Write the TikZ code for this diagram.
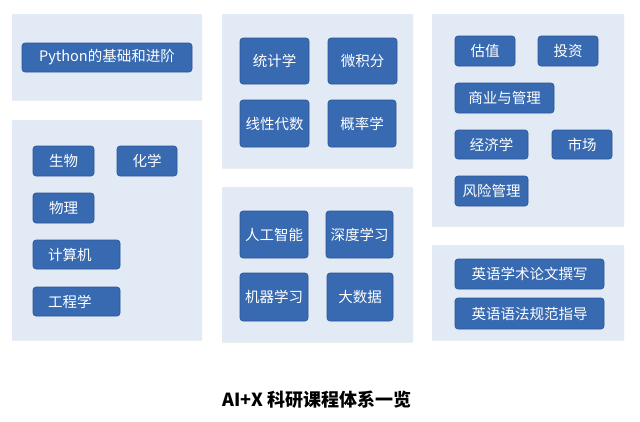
\documentclass[tikz,border=0pt]{standalone}
\usepackage{fontspec}
\setmainfont{Noto Sans CJK SC}
\usetikzlibrary{shadows}
\definecolor{panelc}{RGB}{226,234,245}
\definecolor{btnc}{RGB}{56,106,178}
\definecolor{btnedge}{RGB}{44,86,150}
\tikzset{
  panel/.style={fill=panelc, draw=none, rounded corners=1pt, inner sep=0pt,
    drop shadow={opacity=0.12, shadow xshift=0pt, shadow yshift=-1pt}},
  btn/.style={fill=btnc, draw=btnedge, line width=0.6pt, rounded corners=3pt,
    text=white, font=\fontsize{14.5}{16}\selectfont, inner sep=0pt},
  titletext/.style={font=\bfseries\fontsize{18}{20}\selectfont, text=black}
}
\begin{document}
\begin{tikzpicture}[x=1pt,y=-1pt]
\useasboundingbox (0,0) rectangle (640,421);
\fill[white] (0,0) rectangle (640,421);
% panels
\node[panel, minimum width=190pt, minimum height=86pt] (pA) at (107,57) {};
\node[panel, minimum width=190pt, minimum height=220pt] (pD) at (107,230) {};
\node[panel, minimum width=191pt, minimum height=154pt] (pB) at (317.5,91) {};
\node[panel, minimum width=191pt, minimum height=155pt] (pE) at (317.5,264.5) {};
\node[panel, minimum width=192pt, minimum height=212pt] (pC) at (528,120) {};
\node[panel, minimum width=192pt, minimum height=95pt] (pF) at (528,292.5) {};
% panel A
\node[btn, minimum width=170pt, minimum height=29pt] (py) at (107,57.5) {Python的基础和进阶};
% panel B
\node[btn, minimum width=69pt, minimum height=46pt] (tj) at (274.5,61) {统计学};
\node[btn, minimum width=69pt, minimum height=46pt] (wj) at (362.5,61) {微积分};
\node[btn, minimum width=69pt, minimum height=47pt] (xx) at (274.5,123.5) {线性代数};
\node[btn, minimum width=68pt, minimum height=47pt] (gl) at (362,123.5) {概率学};
% panel C
\node[btn, minimum width=60pt, minimum height=30pt] (gz) at (485,51) {估值};
\node[btn, minimum width=60pt, minimum height=30pt] (tz) at (568,51) {投资};
\node[btn, minimum width=99pt, minimum height=30pt] (sy) at (504.5,98) {商业与管理};
\node[btn, minimum width=73pt, minimum height=29pt] (jj) at (491.5,144.5) {经济学};
\node[btn, minimum width=60pt, minimum height=29pt] (sc) at (582,144.5) {市场};
\node[btn, minimum width=73pt, minimum height=30pt] (fx) at (491.5,191) {风险管理};
% panel D
\node[btn, minimum width=61pt, minimum height=30pt] (sw) at (63.5,161) {生物};
\node[btn, minimum width=60pt, minimum height=30pt] (hx) at (147,161) {化学};
\node[btn, minimum width=61pt, minimum height=30pt] (wl) at (63.5,208) {物理};
\node[btn, minimum height=29pt, text width=57pt, inner xsep=15pt, align=left] (js) at (76.5,254.5) {计算机};
\node[btn, minimum height=29pt, text width=57pt, inner xsep=15pt, align=left] (gc) at (76.5,301.5) {工程学};
% panel E
\node[btn, minimum width=68pt, minimum height=47pt] (rg) at (274,234.5) {人工智能};
\node[btn, minimum width=67pt, minimum height=47pt] (sd) at (359.5,234.5) {深度学习};
\node[btn, minimum width=68pt, minimum height=48pt] (jq) at (274,297) {机器学习};
\node[btn, minimum width=66pt, minimum height=48pt] (ds) at (360,297) {大数据};
% panel F
\node[btn, minimum width=149pt, minimum height=30pt] (yw) at (529.5,274) {英语学术论文撰写};
\node[btn, minimum width=149pt, minimum height=31pt] (yf) at (529.5,313.5) {英语语法规范指导};
% title
\node[titletext] (title) at (317,400) {AI+X 科研课程体系一览};
\end{tikzpicture}
\end{document}
